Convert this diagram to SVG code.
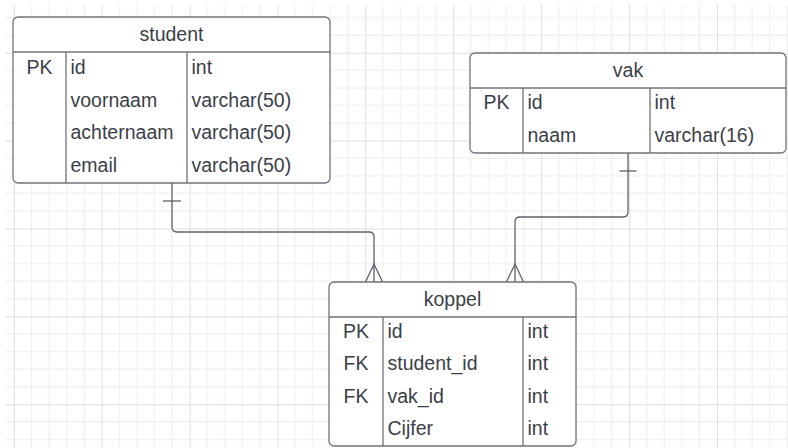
<svg xmlns="http://www.w3.org/2000/svg" width="788" height="448" viewBox="0 0 788 448">
  <style>
    .tbl { fill: #ffffff; stroke: #70737a; stroke-width: 1.3; }
    .div { stroke: #70737a; stroke-width: 1.3; fill: none; }
    .t { font-family: "Liberation Sans", Arial, sans-serif; font-size: 19.5px; fill: #3b4048; }
    .c { text-anchor: middle; }
    .conn { stroke: #5f6268; stroke-width: 1.3; fill: none; }
  </style>
  <defs>
    <!-- background grid: minor every 17.58px, major every 5 cells -->
    <pattern id="grid" patternUnits="userSpaceOnUse" x="13.8" y="52.7" width="87.9" height="87.9">
      <g stroke="#ececec" stroke-width="1">
        <line x1="17.58" y1="0" x2="17.58" y2="87.9"/>
        <line x1="35.16" y1="0" x2="35.16" y2="87.9"/>
        <line x1="52.74" y1="0" x2="52.74" y2="87.9"/>
        <line x1="70.32" y1="0" x2="70.32" y2="87.9"/>
        <line x1="0" y1="17.58" x2="87.9" y2="17.58"/>
        <line x1="0" y1="35.16" x2="87.9" y2="35.16"/>
        <line x1="0" y1="52.74" x2="87.9" y2="52.74"/>
        <line x1="0" y1="70.32" x2="87.9" y2="70.32"/>
      </g>
      <g stroke="#dfdfdf" stroke-width="1">
        <line x1="0.5" y1="0" x2="0.5" y2="87.9"/>
        <line x1="0" y1="0.5" x2="87.9" y2="0.5"/>
      </g>
    </pattern>
  </defs>

  <rect x="0" y="0" width="788" height="448" fill="#ffffff"/>
  <rect x="5" y="5" width="783" height="443" fill="url(#grid)"/>

  <!-- relationship lines -->
  <g id="connectors">
    <!-- student 1 : N koppel -->
    <path class="conn" d="M172,183 V227 Q172,232 177,232 H369 Q374,232 374,237 V282"/>
    <line class="conn" x1="163" y1="201" x2="181" y2="201"/>
    <path class="conn" d="M365.5,282 L374,264 L382.5,282"/>
    <!-- vak 1 : N koppel -->
    <path class="conn" d="M628,153 V212 Q628,217 623,217 H520 Q515,217 515,222 V282"/>
    <line class="conn" x1="619.5" y1="171" x2="636.5" y2="171"/>
    <path class="conn" d="M506.5,282 L515,264 L523.5,282"/>
  </g>

  <!-- student table -->
  <g id="student">
    <rect class="tbl" x="13" y="17" width="317" height="166" rx="5"/>
    <line class="div" x1="13" y1="52" x2="330" y2="52"/>
    <line class="div" x1="66" y1="52" x2="66" y2="183"/>
    <line class="div" x1="187" y1="52" x2="187" y2="183"/>
    <text class="t c" x="171.5" y="41">student</text>
    <text class="t c" x="39.5" y="74">PK</text>
    <text class="t" x="70.5" y="74">id</text>
    <text class="t" x="191.5" y="74">int</text>
    <text class="t" x="70.5" y="106.5">voornaam</text>
    <text class="t" x="191.5" y="106.5">varchar(50)</text>
    <text class="t" x="70.5" y="139">achternaam</text>
    <text class="t" x="191.5" y="139">varchar(50)</text>
    <text class="t" x="70.5" y="171.5">email</text>
    <text class="t" x="191.5" y="171.5">varchar(50)</text>
  </g>

  <!-- vak table -->
  <g id="vak">
    <rect class="tbl" x="470" y="53" width="316" height="100" rx="5"/>
    <line class="div" x1="470" y1="88" x2="786" y2="88"/>
    <line class="div" x1="523" y1="88" x2="523" y2="153"/>
    <line class="div" x1="650" y1="88" x2="650" y2="153"/>
    <text class="t c" x="628" y="77">vak</text>
    <text class="t c" x="496.5" y="108.5">PK</text>
    <text class="t" x="527.5" y="108.5">id</text>
    <text class="t" x="654.5" y="108.5">int</text>
    <text class="t" x="527.5" y="141.5">naam</text>
    <text class="t" x="654.5" y="141.5">varchar(16)</text>
  </g>

  <!-- koppel table -->
  <g id="koppel">
    <rect class="tbl" x="329" y="282" width="247" height="164" rx="5"/>
    <line class="div" x1="329" y1="317" x2="576" y2="317"/>
    <line class="div" x1="383" y1="317" x2="383" y2="446"/>
    <line class="div" x1="523" y1="317" x2="523" y2="446"/>
    <text class="t c" x="452.5" y="306">koppel</text>
    <text class="t c" x="356" y="337.5">PK</text>
    <text class="t" x="387.5" y="337.5">id</text>
    <text class="t" x="527.5" y="337.5">int</text>
    <text class="t c" x="356" y="370">FK</text>
    <text class="t" x="387.5" y="370">student_id</text>
    <text class="t" x="527.5" y="370">int</text>
    <text class="t c" x="356" y="402.5">FK</text>
    <text class="t" x="387.5" y="402.5">vak_id</text>
    <text class="t" x="527.5" y="402.5">int</text>
    <text class="t" x="387.5" y="435">Cijfer</text>
    <text class="t" x="527.5" y="435">int</text>
  </g>
</svg>
